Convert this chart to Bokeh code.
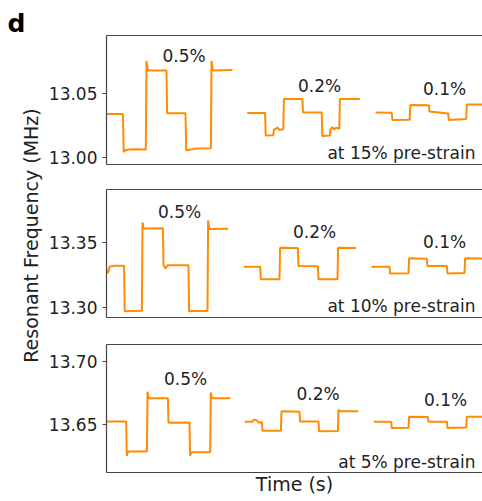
from math import pi
from bokeh.plotting import figure
from bokeh.layouts import row, column
from bokeh.models import Range1d, FixedTicker, PrintfTickFormatter, LinearAxis
from bokeh.core.properties import value
from bokeh.embed import file_html
from bokeh.resources import INLINE

# ---------------- data (time in s, resonant frequency in MHz) ----------------
# 15 % pre-strain
t15_a = [0, 16.5, 17.2, 19, 22, 30, 39.3, 40.0, 41.5, 60.0, 60.6, 79.0, 79.7, 90, 104.4, 105.0, 106.5, 126]
f15_a = [13.034, 13.034, 13.004, 13.0055, 13.006, 13.0063, 13.006, 13.0755, 13.068, 13.068, 13.0345, 13.0345,
         13.0055, 13.0068, 13.007, 13.0755, 13.068, 13.0685]
t15_b = [140.7, 158.6, 159.2, 166.8, 167.4, 169.5, 171.0, 172.5, 176.8, 177.4, 195.9, 196.5, 215.2, 215.8,
         223.4, 224.0, 226.0, 227.5, 229.5, 232.8, 233.4, 253.3]
f15_b = [13.0347, 13.0347, 13.0170, 13.0172, 13.0218, 13.0222, 13.0236, 13.0216, 13.0220, 13.0456, 13.0456,
         13.0352, 13.0350, 13.0166, 13.0170, 13.0220, 13.0236, 13.0218, 13.0232, 13.0222, 13.0456, 13.0457]
t15_c = [269.0, 285.3, 285.9, 303.2, 303.8, 322.4, 323.0, 341.7, 342.3, 359.7, 360.3, 376.0]
f15_c = [13.0350, 13.0348, 13.0292, 13.0295, 13.0410, 13.0408, 13.0358, 13.0344, 13.0293, 13.0300, 13.0414, 13.0414]

# 10 % pre-strain
t10_a = [0, 1.5, 3, 8, 17.6, 18.2, 35.4, 36.0, 37.2, 56.4, 57.0, 59.0, 61.0, 82.0, 82.6, 85, 101.0, 101.6, 102.8, 121.7]
f10_a = [13.3290, 13.3265, 13.3315, 13.3322, 13.3322, 13.2972, 13.2976, 13.3655, 13.3610, 13.3612, 13.3330,
         13.3300, 13.3325, 13.3325, 13.2968, 13.2974, 13.2974, 13.3670, 13.3605, 13.3608]
t10_b = [137.3, 153.7, 154.3, 173.0, 173.6, 191.4, 192.0, 211.4, 212.0, 231.0, 231.6, 249.7]
f10_b = [13.3314, 13.3314, 13.3217, 13.3217, 13.3461, 13.3458, 13.3320, 13.3318, 13.3217, 13.3217, 13.3461, 13.3458]
t10_c = [265.0, 283.0, 283.6, 302.0, 302.6, 320.4, 321.0, 340.4, 341.0, 358.0, 358.6, 376.0]
f10_c = [13.3314, 13.3314, 13.3263, 13.3265, 13.3380, 13.3376, 13.3320, 13.3320, 13.3263, 13.3266, 13.3380, 13.3378]

# 5 % pre-strain
t5_a = [0, 19.7, 20.3, 21.5, 40.4, 41.0, 42.2, 61.4, 62.0, 83.0, 83.6, 84.8, 103.7, 104.3, 105.5, 124.0]
f5_a = [13.6528, 13.6528, 13.6258, 13.6293, 13.6293, 13.6761, 13.6709, 13.6709, 13.6518, 13.6520, 13.6257,
        13.6287, 13.6287, 13.6754, 13.6709, 13.6709]
t5_b = [138.3, 146.0, 147.0, 150.0, 152.0, 155.4, 156.0, 174.4, 175.0, 193.0, 193.6, 212.0, 212.6, 231.4, 232.0,
        233.5, 251.7]
f5_b = [13.6526, 13.6526, 13.6542, 13.6538, 13.6520, 13.6522, 13.6455, 13.6455, 13.6607, 13.6603, 13.6528,
        13.6528, 13.6450, 13.6452, 13.6620, 13.6607, 13.6607]
t5_c = [267.3, 284.7, 285.3, 302.0, 302.6, 321.4, 322.0, 340.4, 341.0, 359.7, 360.3, 376.0]
f5_c = [13.6526, 13.6526, 13.6476, 13.6478, 13.6565, 13.6563, 13.6526, 13.6526, 13.6476, 13.6480, 13.6565, 13.6565]

amp_labels = ["0.5%", "0.2%", "0.1%"]
prestrain_labels = ["at 15% pre-strain", "at 10% pre-strain", "at 5% pre-strain"]
yticks_15 = [13.00, 13.05]
yticks_10 = [13.30, 13.35]
yticks_5 = [13.65, 13.70]

# ---------------- layout / style ----------------
FONT = "DejaVu Sans"
ORANGE = "#ff8c00"
AX = "#444444"
TXT = "#222222"
LEFT_W = 44
PANEL_W = 482 - LEFT_W


def hide_axis(ax):
    ax.ticker = FixedTicker(ticks=[])
    ax.major_tick_out = 0
    ax.major_tick_in = 0
    ax.minor_tick_out = 0
    ax.minor_tick_in = 0
    ax.major_label_standoff = 0
    ax.axis_line_color = AX
    ax.axis_line_width = 1.2


def panel(height, top, bottom, yr, ticks, segs, amp_t, amp_f, pre_f, pre_label, xlabel=None):
    p = figure(width=PANEL_W, height=height, x_range=Range1d(0, 376), y_range=Range1d(*yr),
               output_backend="svg", toolbar_location=None,
               min_border_left=62, min_border_right=0, min_border_top=top, min_border_bottom=bottom)
    p.outline_line_color = None
    p.xgrid.visible = False
    p.ygrid.visible = False
    p.background_fill_color = "white"

    ya = p.yaxis[0]
    ya.ticker = FixedTicker(ticks=ticks)
    ya.formatter = PrintfTickFormatter(format="%.2f")
    ya.major_label_text_font = FONT
    ya.major_label_text_font_size = "17px"
    ya.major_label_text_color = TXT
    ya.major_tick_out = 4
    ya.major_tick_in = 0
    ya.minor_tick_out = 0
    ya.minor_tick_in = 0
    ya.major_tick_line_color = AX
    ya.major_label_standoff = 5
    ya.axis_line_color = AX
    ya.axis_line_width = 1.2

    xa = p.xaxis[0]
    hide_axis(xa)
    if xlabel:
        xa.axis_label = xlabel
        xa.axis_label_text_font = FONT
        xa.axis_label_text_font_size = "19px"
        xa.axis_label_text_font_style = "normal"
        xa.axis_label_text_color = TXT
        xa.axis_label_standoff = 0

    top_ax = LinearAxis()
    hide_axis(top_ax)
    p.add_layout(top_ax, "above")

    for t, f in segs:
        p.line(t, f, line_color=ORANGE, line_width=2)

    p.text(x=amp_t, y=amp_f, text=amp_labels, text_align="center", text_baseline="middle",
           text_font=value(FONT), text_font_size="17px", text_color=TXT)
    p.text(x=[369], y=[pre_f], text=[pre_label], text_align="right", text_baseline="middle",
           text_font=value(FONT), text_font_size="17px", text_color=TXT)
    return p


p15 = panel(177, 35, 13, (12.9943, 13.0955), yticks_15,
            [(t15_a, f15_a), (t15_b, f15_b), (t15_c, f15_c)],
            [77.5, 213, 338], [13.0795, 13.056, 13.0534], 13.0036, prestrain_labels[0])
p10 = panel(153, 12, 13, (13.2923, 13.391), yticks_10,
            [(t10_a, f10_a), (t10_b, f10_b), (t10_c, f10_c)],
            [73, 208, 338], [13.374, 13.3585, 13.3508], 13.3012, prestrain_labels[1])
p5 = panel(171, 14, 29, (13.6128, 13.713), yticks_5,
           [(t5_a, f5_a), (t5_b, f5_b), (t5_c, f5_c)],
           [79, 211.5, 339], [13.6861, 13.6743, 13.6696], 13.6214, prestrain_labels[2], xlabel="Time (s)")

lab = figure(width=LEFT_W, height=501, x_range=Range1d(0, LEFT_W), y_range=Range1d(0, 501),
             output_backend="svg", toolbar_location=None, min_border=0,
             x_axis_type=None, y_axis_type=None)
lab.outline_line_color = None
lab.xgrid.visible = False
lab.ygrid.visible = False
lab.text(x=[30], y=[266], text=["Resonant Frequency (MHz)"], angle=pi / 2, text_align="center",
         text_baseline="middle", text_font=value(FONT), text_font_size="19px", text_color=TXT)
lab.text(x=[7], y=[478], text=["d"], text_align="left", text_baseline="middle",
         text_font=value(FONT), text_font_size="25px", text_font_style="bold", text_color="black")

layout = row(lab, column(p15, p10, p5, spacing=0), spacing=0)

open("out.html", "w").write(file_html(layout, INLINE))
